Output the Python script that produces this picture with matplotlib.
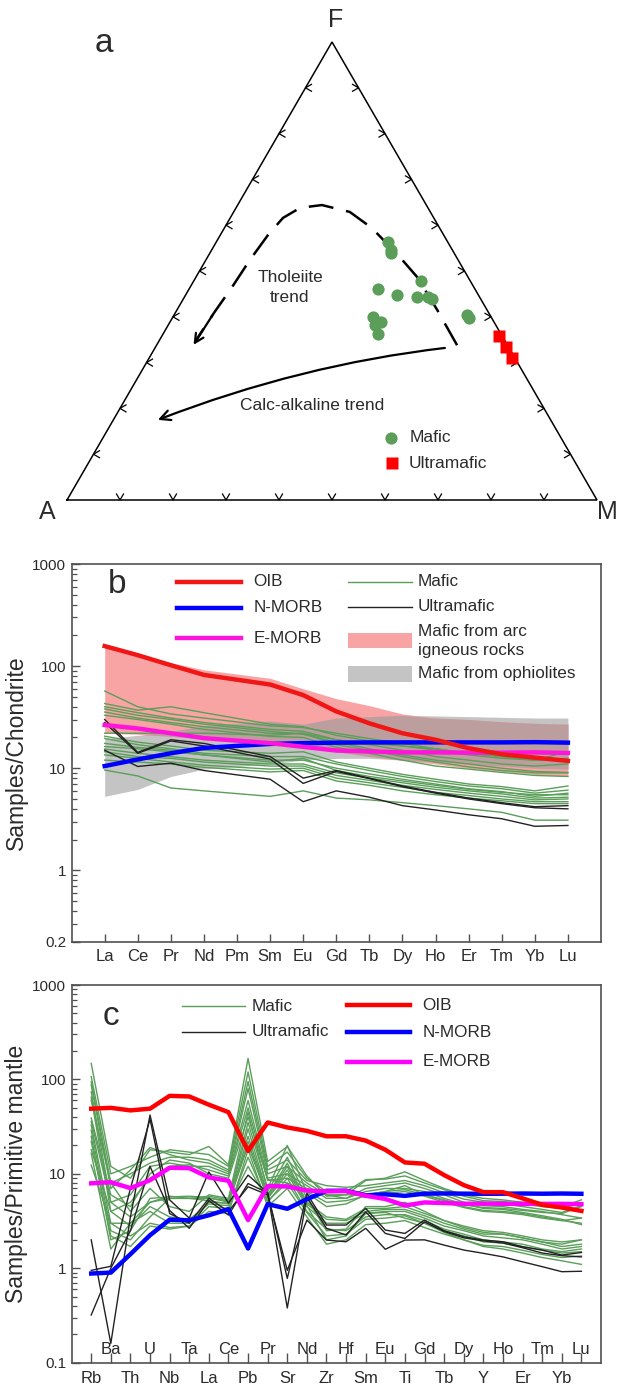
import numpy as np
import matplotlib
matplotlib.use("Agg")
import matplotlib.pyplot as plt
from matplotlib.path import Path
from matplotlib.patches import FancyArrowPatch, Rectangle
from matplotlib.ticker import FixedLocator, FixedFormatter, NullFormatter
from matplotlib.transforms import blended_transform_factory

plt.rcParams['font.family'] = ['Liberation Sans', 'DejaVu Sans']
TXT = '#2b2b2b'
plt.rcParams['text.color'] = TXT

# ---------------- (a) AFM ternary data (proportions, %) ----------------
mafic_F = [56.4, 54.6, 53.9, 47.9, 46.1, 44.8, 44.3, 44.3, 43.8, 40.5, 39.7, 39.9, 38.9, 38.2, 36.2]
mafic_M = [32.4, 33.8, 34.1, 42.8, 35.6, 39.9, 43.9, 46.0, 46.9, 55.3, 56.0, 37.8, 39.8, 39.0, 40.6]
mafic_A = [100 - f - m for f, m in zip(mafic_F, mafic_M)]
ultra_F = [35.8, 33.5, 30.9]
ultra_M = [63.7, 66.1, 68.6]
ultra_A = [100 - f - m for f, m in zip(ultra_F, ultra_M)]

# trend guide lines (F, M in %)
thol_F = [33.8, 41.5, 48.7, 53.5, 59.4, 62.9, 64.4, 63.8, 61.6, 57.9, 52.4, 46.5, 40.8, 34.9]
thol_M = [56.7, 49.1, 41.7, 35.7, 27.8, 21.9, 15.9, 12.1, 9.96, 9.0, 8.3, 7.9, 7.3, 6.9]
calc_F = [33.2, 29.5, 17.5]
calc_M = [54.7, 29.2, 8.4]

# ---------------- (b) REE, chondrite normalised ----------------
ree_labels = ['La', 'Ce', 'Pr', 'Nd', 'Pm', 'Sm', 'Eu', 'Gd', 'Tb', 'Dy', 'Ho', 'Er', 'Tm', 'Yb', 'Lu']
ree_used = ['La', 'Ce', 'Pr', 'Nd', 'Sm', 'Eu', 'Gd', 'Tb', 'Dy', 'Ho', 'Er', 'Tm', 'Yb', 'Lu']
oib_ree = [157, 128, 102, 82, 66, 52, 36, 27.5, 22, 19, 15.7, 13.7, 12.7, 11.8]
nmorb_ree = [10.5, 12.2, 14.0, 15.8, 17.3, 17.6, 17.8, 17.9, 17.9, 17.9, 17.9, 17.9, 18.0, 17.8]
emorb_ree = [26.5, 24.5, 22.0, 19.7, 17.6, 16.2, 14.9, 14.6, 14.3, 14.3, 14.2, 14.2, 14.3, 14.1]
arc_hi = [155, 132, 108, 92, 76, 60, 48, 41, 34, 31, 30, 28.5, 27.5, 27]
arc_lo = [22, 21.5, 20.5, 19.5, 17.5, 16, 14.5, 13, 12, 11, 10, 9.3, 8.7, 8.3]
oph_hi = [19.5, 21, 23, 26, 29, 27, 31, 32, 33, 32.5, 32, 31.5, 31, 31]
oph_lo = [5.3, 6.2, 8.3, 9.8, 11, 12, 12.5, 12.5, 12, 11.5, 11, 10.5, 10, 9.8]

mafic_ree = [
    [57, 40, 34, 31, 26, 25, 22, 19.5, 17.5, 15.5, 14, 13, 12, 12.5],
    [43, 37, 40, 35, 27, 25.5, 21, 18.5, 16.5, 15, 13.5, 12.5, 12, 14.5],
    [40, 35, 31, 28, 24, 23, 19, 17, 15, 13, 12, 11, 10.5, 11],
    [38, 33, 30, 27, 23, 21.5, 18, 15.5, 13.5, 12, 11, 10, 9.3, 9.1],
    [35.5, 31, 28, 25.5, 22, 22, 17, 15, 13, 11.5, 10.3, 9.5, 9, 9],
    [33, 30, 27, 24, 20.5, 20, 16, 14, 12, 10.5, 9.8, 9.1, 8.5, 8.3],
    [22, 22, 22, 22, 21, 22, 19, 17.5, 16.5, 15.5, 14, 13, 12, 12],
    [20.6, 18, 16.5, 15, 14, 14.5, 11.5, 10, 8.7, 7.8, 7, 6.6, 6, 6.7],
    [19.6, 17, 15.5, 14, 13, 13, 11, 9.5, 8.3, 7.4, 6.7, 6.3, 5.7, 6.1],
    [16.3, 15.5, 14.5, 13.5, 12, 12, 10, 8.8, 7.8, 7, 6.3, 5.9, 5.3, 5.7],
    [15.4, 14, 13, 12, 11, 11, 9, 8, 7.2, 6.5, 6, 5.6, 5.1, 5.2],
    [14.5, 13, 12.5, 11.5, 10.5, 10.5, 8.5, 7.6, 6.8, 6.2, 5.7, 5.3, 4.9, 5.0],
    [13.5, 12.5, 11.5, 10.7, 9.8, 10, 8, 7.2, 6.5, 5.8, 5.4, 5, 4.7, 4.7],
    [12, 11.5, 11, 10.2, 9.2, 9.5, 7.5, 6.8, 6, 5.5, 5.1, 4.8, 4.5, 4.5],
    [9.6, 8.4, 6.4, 6.0, 5.3, 6.0, 5.1, 4.9, 4.6, 4.3, 4.0, 3.7, 3.1, 3.1],
    [17.5, 16, 15, 13.5, 11.5, 12.5, 9.5, 8.3, 7.5, 6.8, 6.2, 5.8, 5.5, 5.5],
]
ultra_ree = [
    [30, 14.3, 19, 17.5, 13, 8.0, 9.5, 8.0, 6.7, 5.8, 5.1, 4.6, 4.2, 4.3],
    [15, 10.4, 11.2, 9.5, 7.8, 4.7, 6.0, 5.2, 4.3, 3.9, 3.5, 3.2, 2.7, 2.75],
    [28, 14, 18.5, 16.5, 12.3, 7.1, 9.3, 7.9, 6.6, 5.7, 5.0, 4.5, 4.1, 4.0],
]

# ---------------- (c) trace elements, primitive mantle normalised ----------------
te_labels = ['Rb', 'Ba', 'Th', 'U', 'Nb', 'Ta', 'La', 'Ce', 'Pb', 'Pr', 'Sr', 'Nd', 'Zr',
             'Hf', 'Sm', 'Eu', 'Ti', 'Gd', 'Tb', 'Dy', 'Y', 'Ho', 'Er', 'Tm', 'Yb', 'Lu']
oib_te = [49, 50, 47, 49, 67, 66, 54, 45, 17.5, 35, 31, 28.5, 25, 25, 22.5, 18, 13.2, 12.8,
          9.7, 7.6, 6.4, 6.4, 5.5, 4.7, 4.4, 4.05]
nmorb_te = [0.88, 0.90, 1.41, 2.24, 3.27, 3.22, 3.64, 4.23, 1.62, 4.78, 4.27, 5.39, 6.61,
            6.63, 5.92, 6.07, 5.85, 6.17, 6.2, 6.17, 6.15, 6.16, 6.19, 6.16, 6.19, 6.15]
emorb_te = [7.94, 8.16, 7.06, 8.57, 11.6, 11.5, 9.17, 8.45, 3.24, 7.43, 7.35, 6.65, 6.52,
            6.57, 5.86, 5.42, 4.62, 4.98, 4.91, 4.82, 4.84, 4.82, 4.81, 4.81, 4.81, 4.78]
mafic_te = [
    [148, 12, 9, 18, 17, 16, 19.5, 12.5, 167, 13.5, 19.5, 9.5, 5.8, 6.0, 8.5, 9.0, 10.5, 8.5, 7.0, 6.0, 5.5, 5.3, 5.0, 4.7, 4.5, 5.3],
    [107, 10, 12, 15, 18, 17, 16, 12, 120, 12, 17, 9.0, 6.5, 6.5, 8.7, 8.8, 9.5, 8.0, 6.8, 5.8, 5.2, 5.1, 4.8, 4.5, 4.3, 4.9],
    [94, 8, 10, 13, 15, 15, 14, 11, 95, 11, 14, 8.5, 7.5, 7.2, 7.5, 8.0, 8.5, 7.5, 6.3, 5.4, 5.0, 4.8, 4.5, 4.2, 3.9, 4.6],
    [87, 7, 11, 19, 16, 14, 13, 10.5, 80, 10, 12, 8.0, 6.0, 5.5, 7.0, 7.5, 8.0, 7.0, 6.0, 5.0, 4.6, 4.5, 4.2, 4.0, 3.7, 3.4],
    [74, 5, 6, 12, 13, 12, 12, 10, 60, 9, 10, 7.5, 5.5, 5.5, 6.5, 7.0, 7.0, 6.5, 5.5, 4.8, 4.3, 4.2, 3.9, 3.6, 3.3, 2.9],
    [65, 4, 5, 9, 12, 12.5, 11, 9.5, 50, 8.5, 9, 7.0, 6.0, 6.0, 6.0, 6.5, 7.5, 6.0, 5.2, 4.5, 4.1, 4.0, 3.8, 3.5, 3.2, 3.4],
    [39, 6, 4.5, 10, 14, 13, 10, 9, 40, 8.7, 8, 6.5, 5.0, 5.2, 5.8, 6.2, 6.5, 5.8, 5.0, 4.4, 4.0, 3.9, 3.7, 3.4, 3.2, 3.0],
    [33, 3, 3.0, 5, 5.8, 5.5, 5.8, 5.3, 35, 7, 20, 6.3, 4.5, 4.8, 6.0, 6.5, 6.8, 6.0, 5.3, 4.7, 4.4, 4.3, 4.1, 3.9, 3.8, 4.5],
    [29, 2.5, 2.0, 3.5, 5.5, 5.5, 5.5, 5.2, 30, 6, 13, 5.0, 3.5, 3.3, 4.3, 4.3, 4.5, 3.8, 3.2, 2.8, 2.5, 2.4, 2.2, 2.0, 1.9, 2.0],
    [25, 2.0, 2.5, 5.5, 5.7, 5.8, 5.6, 5.0, 25, 5.8, 12, 4.8, 3.3, 3.2, 4.0, 4.2, 4.2, 3.6, 3.0, 2.6, 2.3, 2.3, 2.1, 1.9, 1.8, 2.0],
    [16.5, 1.6, 3.0, 4.0, 3.0, 3.0, 5.0, 4.9, 20, 5.5, 10, 4.5, 3.0, 3.0, 3.8, 4.0, 4.0, 3.4, 2.8, 2.5, 2.2, 2.1, 2.0, 1.8, 1.6, 1.7],
    [12.4, 3.0, 2.2, 3.0, 2.7, 2.8, 4.5, 4.3, 15, 5.0, 9, 4.0, 2.6, 2.5, 3.5, 3.7, 3.7, 3.2, 2.6, 2.3, 2.0, 1.9, 1.8, 1.6, 1.5, 1.6],
    [18, 4.0, 2.8, 4.5, 3.5, 3.3, 4.8, 4.6, 12, 5.2, 8, 3.9, 2.2, 2.3, 3.3, 3.4, 3.6, 3.0, 2.5, 2.2, 1.9, 1.85, 1.7, 1.55, 1.45, 1.5],
    [22, 2.2, 1.7, 2.8, 2.6, 2.8, 4.0, 3.8, 18, 4.5, 7, 3.5, 1.8, 2.0, 2.9, 3.0, 3.2, 2.7, 2.3, 2.0, 1.75, 1.7, 1.55, 1.4, 1.3, 1.35],
    [36, 5.0, 3.5, 5.0, 5.5, 5.5, 5.2, 4.8, 22, 5.6, 11, 4.6, 2.0, 2.2, 3.8, 3.9, 3.4, 3.0, 2.4, 2.0, 1.7, 1.6, 1.45, 1.3, 1.2, 1.1],
    [60, 8, 4.0, 7.0, 4.5, 4.0, 6.0, 5.5, 45, 6.5, 15, 5.5, 2.5, 2.6, 4.5, 4.5, 5.0, 4.0, 3.2, 2.7, 2.4, 2.3, 2.1, 1.9, 1.7, 1.8],
]
ultra_te = [
    [2.0, 0.16, 3.5, 42, 5.3, 3.4, 10.5, 4.9, 9.7, 6.3, 0.78, 6.2, 2.87, 2.87, 4.3, 2.54, 2.34, 3.24, 2.5, 2.16, 1.99, 1.91, 1.69, 1.56, 1.38, 1.47],
    [0.32, 1.0, 2.5, 12, 4.1, 2.65, 5.2, 3.66, 7.9, 6.3, 0.38, 5.7, 2.65, 2.25, 3.96, 2.34, 2.07, 3.1, 2.45, 2.1, 1.95, 1.85, 1.65, 1.45, 1.36, 1.32],
    [0.95, 1.05, 7.0, 38, 3.8, 3.0, 5.5, 4.0, 7.3, 6.0, 0.95, 3.24, 1.99, 1.91, 2.65, 1.59, 1.99, 2.0, 1.76, 1.56, 1.44, 1.32, 1.17, 1.04, 0.92, 0.93],
]

# ---------------- styling ----------------
GREEN = '#5a9e5a'
BLACK = '#222222'
RED = '#f01616'
BLUE = '#0000ff'
MAG = '#ff14dc'
PINK = '#f9a4a4'
GRAY = '#c4c4c4'
OVER = '#bd9e9e'
SPINE = '#505050'

W, H = 622, 1387
fig = plt.figure(figsize=(W / 100, H / 100), dpi=100)

# ======================= panel a =======================
axa = fig.add_axes([0, 1 - 540 / H, 1, 540 / H])
axa.set_xlim(0, W)
axa.set_ylim(540, 0)
axa.axis('off')

VA = np.array([67.0, 500.0])
VM = np.array([597.0, 500.0])
VF = np.array([332.0, 42.0])


def tern(F, A, M):
    F = np.asarray(F, float); A = np.asarray(A, float); M = np.asarray(M, float)
    s = F + A + M
    x = (A * VA[0] + M * VM[0] + F * VF[0]) / s
    y = (A * VA[1] + M * VM[1] + F * VF[1]) / s
    return x, y


tri = np.array([VA, VM, VF, VA])
axa.plot(tri[:, 0], tri[:, 1], color='black', lw=1.1, solid_joinstyle='miter')

# chevron ticks
for t in np.arange(1, 10) / 10:
    p = VA + t * (VM - VA)  # bottom "v"
    axa.plot([p[0] - 3.5, p[0], p[0] + 3.5], [p[1] - 6, p[1], p[1] - 6], color='black', lw=0.9)
    p = VA + t * (VF - VA)  # left "<"
    axa.plot([p[0] + 6, p[0], p[0] + 6], [p[1] - 3.5, p[1], p[1] + 3.5], color='black', lw=0.9)
    p = VF + t * (VM - VF)  # right ">"
    axa.plot([p[0] - 6, p[0], p[0] - 6], [p[1] - 3.5, p[1], p[1] + 3.5], color='black', lw=0.9)

# tholeiite trend (dashed)
tF = np.array(thol_F); tM = np.array(thol_M)
tx, ty = tern(tF, 100 - tF - tM, tM)
axa.plot(tx, ty, color='black', lw=1.8, dashes=(10, 5.2), solid_capstyle='butt')
axa.annotate('', xy=(tx[-1] - 4, ty[-1] + 7), xytext=(tx[-2], ty[-2]),
             arrowprops=dict(arrowstyle='->', color='black', lw=1.6, mutation_scale=16))

# calc-alkaline trend (solid curve with arrow)
cF = np.array(calc_F); cM = np.array(calc_M)
cx, cy = tern(cF, 100 - cF - cM, cM)
cpath = Path(np.column_stack([cx, cy]), [Path.MOVETO, Path.CURVE3, Path.CURVE3])
axa.add_patch(FancyArrowPatch(path=cpath, arrowstyle='->', color='black', lw=1.6,
                              mutation_scale=18))

mx, my = tern(mafic_F, mafic_A, mafic_M)
axa.plot(mx, my, 'o', color=GREEN, ms=8.8, mec='none', ls='none')
ux, uy = tern(ultra_F, ultra_A, ultra_M)
axa.plot(ux, uy, 's', color='#ff0000', ms=8.2, mec='none', ls='none')

axa.text(290, 278, 'Tholeiite', ha='center', va='center', fontsize=12.5)
axa.text(290, 298, 'trend', ha='center', va='center', fontsize=12.5)
axa.text(312, 405, 'Calc-alkaline trend', ha='center', va='center', fontsize=12.5)

axa.plot([391], [438], 'o', color=GREEN, ms=8.8, mec='none')
axa.text(410, 438, 'Mafic', ha='left', va='center', fontsize=12.5)
axa.plot([392], [463], 's', color='#ff0000', ms=8.2, mec='none')
axa.text(409, 463, 'Ultramafic', ha='left', va='center', fontsize=12.5)

axa.text(336, 20, 'F', ha='center', va='center', fontsize=18)
axa.text(47, 512, 'A', ha='center', va='center', fontsize=18)
axa.text(607, 512, 'M', ha='center', va='center', fontsize=18)
axa.text(104, 43, 'a', ha='center', va='center', fontsize=24)


def style_log_axes(ax, ymin, majors, labels, minors):
    ax.set_yscale('log')
    ax.set_ylim(ymin, 1000)
    ax.yaxis.set_major_locator(FixedLocator(majors))
    ax.yaxis.set_major_formatter(FixedFormatter(labels))
    ax.yaxis.set_minor_locator(FixedLocator(minors))
    ax.yaxis.set_minor_formatter(NullFormatter())
    ax.tick_params(axis='y', which='major', direction='in', length=6, width=1.0,
                   color=SPINE, labelsize=11, pad=4, labelcolor=TXT, right=False)
    ax.tick_params(axis='y', which='minor', direction='in', length=3.5, width=0.9,
                   color=SPINE, right=False)
    for s in ax.spines.values():
        s.set_color(SPINE)
        s.set_linewidth(1.2)


# ======================= panel b =======================
axb = fig.add_axes([71.6 / W, (H - 941.7) / H, 529.4 / W, 377.7 / H])
minors_b = [v * 10.0 ** e for e in range(-1, 3) for v in range(2, 10) if 0.2 < v * 10.0 ** e < 1000]
style_log_axes(axb, 0.2, [0.2, 1, 10, 100, 1000], ['0.2', '1', '10', '100', '1000'], minors_b)
axb.set_xlim(-1, 15)
xb = [ree_labels.index(e) for e in ree_used]
axb.set_xticks(range(len(ree_labels)))
axb.set_xticklabels(ree_labels)
axb.tick_params(axis='x', direction='in', length=6, width=1.0, color=SPINE,
                labelsize=12, pad=5, labelcolor=TXT, top=False)

oh, ol = np.array(oph_hi), np.array(oph_lo)
ah, al = np.array(arc_hi), np.array(arc_lo)
axb.fill_between(xb, ol, oh, color=GRAY, lw=0, zorder=1)
axb.fill_between(xb, al, ah, color=PINK, lw=0, zorder=1.1)
lo_i, hi_i = np.maximum(ol, al), np.minimum(oh, ah)
axb.fill_between(xb, lo_i, hi_i, where=lo_i < hi_i, interpolate=True, color=OVER, lw=0, zorder=1.2)

for row in mafic_ree:
    axb.plot(xb, row, color=GREEN, lw=1.0, zorder=2)
for row in ultra_ree:
    axb.plot(xb, row, color=BLACK, lw=1.0, zorder=2.1)
axb.plot(xb, nmorb_ree, color=BLUE, lw=3.2, zorder=3)
axb.plot(xb, emorb_ree, color=MAG, lw=3.2, zorder=3.1)
axb.plot(xb, oib_ree, color=RED, lw=3.2, zorder=3.2)

axb.set_ylabel('Samples/Chondrite', fontsize=16.5, color=TXT, labelpad=3)
axb.text(0.086, 0.945, 'b', transform=axb.transAxes, ha='center', va='center', fontsize=24)

tb = axb.transAxes
leg_fs = 12.3
for y, c, lab in [(0.953, RED, 'OIB'), (0.884, BLUE, 'N-MORB'), (0.804, MAG, 'E-MORB')]:
    axb.plot([0.199, 0.320], [y, y], color=c, lw=3.2, transform=tb)
    axb.text(0.343, y, lab, transform=tb, ha='left', va='center', fontsize=leg_fs)
for y, c, lab in [(0.953, GREEN, 'Mafic'), (0.887, BLACK, 'Ultramafic')]:
    axb.plot([0.522, 0.643], [y, y], color=c, lw=1.0, transform=tb)
    axb.text(0.654, y, lab, transform=tb, ha='left', va='center', fontsize=leg_fs)
axb.add_patch(Rectangle((0.522, 0.777), 0.121, 0.040, transform=tb, color=PINK, lw=0))
axb.text(0.654, 0.820, 'Mafic from arc', transform=tb, ha='left', va='center', fontsize=leg_fs)
axb.text(0.654, 0.770, 'igneous rocks', transform=tb, ha='left', va='center', fontsize=leg_fs)
axb.add_patch(Rectangle((0.522, 0.688), 0.121, 0.042, transform=tb, color=GRAY, lw=0))
axb.text(0.654, 0.709, 'Mafic from ophiolites', transform=tb, ha='left', va='center', fontsize=leg_fs)

# ======================= panel c =======================
axc = fig.add_axes([71.6 / W, (H - 1362.7) / H, 529.4 / W, 377.7 / H])
minors_c = [v * 10.0 ** e for e in range(-1, 3) for v in range(2, 10) if 0.1 < v * 10.0 ** e < 1000]
style_log_axes(axc, 0.1, [0.1, 1, 10, 100, 1000], ['0.1', '1', '10', '100', '1000'], minors_c)
axc.set_xlim(-1, 26)
xc = np.arange(len(te_labels))
axc.set_xticks(xc)
axc.set_xticklabels([])
axc.tick_params(axis='x', direction='in', length=7, width=1.0, color=SPINE, top=False)
bt = blended_transform_factory(axc.transData, axc.transAxes)
for i, lab in enumerate(te_labels):
    if i % 2 == 0:
        axc.text(i, -0.041, lab, transform=bt, ha='center', va='center', fontsize=12)
    else:
        axc.text(i, 0.034, lab, transform=bt, ha='center', va='center', fontsize=12)

for row in mafic_te:
    axc.plot(xc, row, color=GREEN, lw=1.0, zorder=2)
for row in ultra_te:
    axc.plot(xc, row, color=BLACK, lw=1.0, zorder=2.1)
axc.plot(xc, nmorb_te, color=BLUE, lw=3.2, zorder=3)
axc.plot(xc, emorb_te, color='#ff00ff', lw=3.2, zorder=3.1)
axc.plot(xc, oib_te, color='#ff0000', lw=3.2, zorder=3.2)

axc.set_ylabel('Samples/Primitive mantle', fontsize=16.5, color=TXT, labelpad=3)
axc.text(0.074, 0.916, 'c', transform=axc.transAxes, ha='center', va='center', fontsize=24)

tc = axc.transAxes
for y, c, lab in [(0.944, GREEN, 'Mafic'), (0.876, BLACK, 'Ultramafic')]:
    axc.plot([0.209, 0.328], [y, y], color=c, lw=1.0, transform=tc)
    axc.text(0.340, y, lab, transform=tc, ha='left', va='center', fontsize=leg_fs)
for y, c, lab in [(0.947, '#ff0000', 'OIB'), (0.875, BLUE, 'N-MORB'), (0.797, '#ff00ff', 'E-MORB')]:
    axc.plot([0.520, 0.639], [y, y], color=c, lw=3.2, transform=tc)
    axc.text(0.663, y, lab, transform=tc, ha='left', va='center', fontsize=leg_fs)

fig.savefig('out.png', dpi=100)
